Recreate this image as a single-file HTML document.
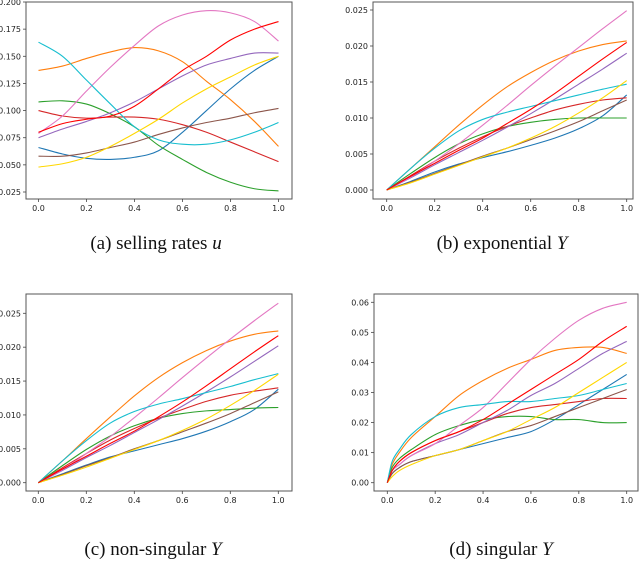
<!DOCTYPE html>
<html><head><meta charset="utf-8">
<style>
html,body{margin:0;padding:0;background:#fff;width:640px;height:577px;overflow:hidden}
svg{display:block}
.tk{font-family:"DejaVu Sans","Liberation Sans",sans-serif;font-size:8px;fill:#222}
.cap{font-family:"Liberation Serif",serif;font-size:19px;fill:#111}
</style></head>
<body>
<svg id="fig" width="640" height="577" viewBox="0 0 640 577" xmlns="http://www.w3.org/2000/svg">
<text class="cap" x="156" y="249" text-anchor="middle">(a) selling rates <tspan font-style="italic">u</tspan></text>
<text class="cap" x="502" y="249" text-anchor="middle">(b) exponential <tspan font-style="italic">Y</tspan></text>
<text class="cap" x="153" y="555" text-anchor="middle">(c) non-singular <tspan font-style="italic">Y</tspan></text>
<text class="cap" x="501" y="555" text-anchor="middle">(d) singular <tspan font-style="italic">Y</tspan></text>
</svg>
<script>
const colors = ["#1f77b4","#ff7f0e","#2ca02c","#d62728","#9467bd","#8c564b","#e377c2","#17becf","#ffd700","#ff0000"];
const seriesNames = ["blue","orange","green","dark-red","purple","brown","pink","cyan","yellow","bright-red"];
const xTicks = [0,0.2,0.4,0.6,0.8,1.0];
const xTickLabels = ["0.0","0.2","0.4","0.6","0.8","1.0"];
const xsA = [0,0.1,0.2,0.3,0.4,0.5,0.6,0.7,0.8,0.9,1.0];
const yTicksA = [0.025,0.05,0.075,0.1,0.125,0.15,0.175,0.2];
const yLabelsA = ["0.025","0.050","0.075","0.100","0.125","0.150","0.175","0.200"];
const valsA = [
[0.066,0.060,0.056,0.055,0.057,0.063,0.080,0.100,0.120,0.137,0.150],
[0.137,0.141,0.148,0.154,0.158,0.155,0.145,0.127,0.110,0.090,0.067],
[0.108,0.109,0.106,0.097,0.085,0.068,0.055,0.043,0.034,0.028,0.026],
[0.100,0.095,0.093,0.094,0.094,0.092,0.087,0.080,0.071,0.062,0.053],
[0.075,0.083,0.090,0.098,0.108,0.120,0.132,0.142,0.148,0.153,0.153],
[0.058,0.058,0.061,0.066,0.071,0.078,0.084,0.089,0.093,0.098,0.102],
[0.079,0.095,0.118,0.140,0.160,0.178,0.188,0.192,0.190,0.182,0.164],
[0.163,0.150,0.128,0.106,0.085,0.073,0.069,0.069,0.073,0.080,0.089],
[0.048,0.051,0.057,0.067,0.079,0.092,0.107,0.120,0.131,0.142,0.150],
[0.080,0.088,0.092,0.095,0.104,0.120,0.137,0.150,0.165,0.175,0.182]];
const xsB = [0,0.1,0.2,0.3,0.4,0.5,0.6,0.7,0.8,0.9,1.0];
const yTicksB = [0,0.005,0.01,0.015,0.02,0.025];
const yLabelsB = ["0.000","0.005","0.010","0.015","0.020","0.025"];
const valsB = [
[0,0.0012,0.0025,0.0036,0.0045,0.0053,0.0062,0.0072,0.0085,0.0103,0.0132],
[0,0.0030,0.0060,0.0090,0.0118,0.0143,0.0163,0.0180,0.0193,0.0202,0.0207],
[0,0.0023,0.0045,0.0064,0.0078,0.0088,0.0094,0.0098,0.0100,0.0100,0.0100],
[0,0.0020,0.0040,0.0058,0.0074,0.0088,0.0100,0.0111,0.0119,0.0125,0.0128],
[0,0.0017,0.0035,0.0052,0.0069,0.0087,0.0106,0.0126,0.0147,0.0168,0.0190],
[0,0.0011,0.0023,0.0035,0.0047,0.0058,0.0070,0.0082,0.0095,0.0110,0.0125],
[0,0.0018,0.0040,0.0064,0.0090,0.0117,0.0145,0.0172,0.0198,0.0224,0.0249],
[0,0.0030,0.0058,0.0082,0.0098,0.0108,0.0116,0.0124,0.0132,0.0140,0.0147],
[0,0.0010,0.0022,0.0034,0.0046,0.0058,0.0072,0.0088,0.0107,0.0128,0.0152],
[0,0.0019,0.0037,0.0055,0.0072,0.0092,0.0112,0.0134,0.0158,0.0182,0.0205]];
const xsC = [0,0.1,0.2,0.3,0.4,0.5,0.6,0.7,0.8,0.9,1.0];
const yTicksC = [0,0.005,0.01,0.015,0.02,0.025];
const yLabelsC = ["0.000","0.005","0.010","0.015","0.020","0.025"];
const valsC = [
[0,0.0013,0.0026,0.0038,0.0047,0.0056,0.0065,0.0076,0.0090,0.0108,0.0138],
[0,0.0032,0.0065,0.0097,0.0128,0.0155,0.0177,0.0195,0.0209,0.0219,0.0224],
[0,0.0025,0.0049,0.0069,0.0084,0.0095,0.0102,0.0106,0.0108,0.0110,0.0111],
[0,0.0022,0.0043,0.0063,0.0080,0.0095,0.0108,0.0120,0.0129,0.0135,0.0140],
[0,0.0018,0.0037,0.0055,0.0074,0.0093,0.0113,0.0134,0.0156,0.0179,0.0202],
[0,0.0012,0.0025,0.0037,0.0050,0.0062,0.0075,0.0088,0.0102,0.0118,0.0134],
[0,0.0019,0.0043,0.0068,0.0096,0.0125,0.0155,0.0184,0.0212,0.0239,0.0265],
[0,0.0032,0.0062,0.0088,0.0105,0.0116,0.0124,0.0133,0.0142,0.0152,0.0161],
[0,0.0011,0.0023,0.0036,0.0049,0.0062,0.0077,0.0094,0.0114,0.0136,0.0160],
[0,0.0020,0.0039,0.0058,0.0076,0.0097,0.0119,0.0143,0.0168,0.0193,0.0217]];
const xsD = [0,0.02,0.05,0.1,0.2,0.3,0.4,0.5,0.6,0.7,0.8,0.9,1.0];
const yTicksD = [0,0.01,0.02,0.03,0.04,0.05,0.06];
const yLabelsD = ["0.00","0.01","0.02","0.03","0.04","0.05","0.06"];
const valsD = [
[0,0.003,0.005,0.007,0.009,0.011,0.013,0.015,0.017,0.021,0.026,0.031,0.036],
[0,0.006,0.010,0.015,0.022,0.029,0.034,0.038,0.041,0.044,0.045,0.045,0.043],
[0,0.005,0.008,0.011,0.016,0.019,0.021,0.022,0.022,0.021,0.021,0.020,0.020],
[0,0.004,0.007,0.010,0.014,0.017,0.020,0.023,0.025,0.026,0.027,0.028,0.028],
[0,0.004,0.006,0.009,0.013,0.016,0.020,0.024,0.029,0.033,0.038,0.043,0.047],
[0,0.003,0.005,0.007,0.009,0.011,0.014,0.017,0.019,0.022,0.025,0.028,0.031],
[0,0.004,0.006,0.009,0.013,0.019,0.025,0.033,0.041,0.048,0.054,0.058,0.060],
[0,0.007,0.011,0.016,0.022,0.025,0.026,0.027,0.027,0.028,0.029,0.031,0.033],
[0,0.002,0.004,0.006,0.009,0.011,0.014,0.017,0.021,0.025,0.030,0.035,0.040],
[0,0.004,0.007,0.010,0.014,0.017,0.021,0.026,0.031,0.036,0.041,0.047,0.052]];

const NS = "http://www.w3.org/2000/svg";
const fig = document.getElementById("fig");
function mk(tag, attrs, parent){
  const e = document.createElementNS(NS, tag);
  for (const k in attrs) e.setAttribute(k, attrs[k]);
  (parent||fig).appendChild(e);
  return e;
}
function smooth(pts){
  let d = "M" + pts[0][0].toFixed(2) + "," + pts[0][1].toFixed(2);
  for (let i=0;i<pts.length-1;i++){
    const p0 = pts[Math.max(0,i-1)], p1 = pts[i], p2 = pts[i+1], p3 = pts[Math.min(pts.length-1,i+2)];
    const c1x = p1[0]+(p2[0]-p0[0])/6, c1y = p1[1]+(p2[1]-p0[1])/6;
    const c2x = p2[0]-(p3[0]-p1[0])/6, c2y = p2[1]-(p3[1]-p1[1])/6;
    d += " C"+c1x.toFixed(2)+","+c1y.toFixed(2)+" "+c2x.toFixed(2)+","+c2y.toFixed(2)+" "+p2[0].toFixed(2)+","+p2[1].toFixed(2);
  }
  return d;
}
function panel(id, box, xr, yr, xs, vals, yTicks, yLabels){
  const g = mk("g", {});
  
  
  const sx = v => xr[0] + (xr[1]-xr[0]) * v;
  const sy = v => yr[0] + (yr[1]-yr[0]) * (v - yr[2]) / (yr[3]-yr[2]);
  vals.forEach((s, k) => {
    const pts = xs.map((x,i) => [sx(x), sy(s[i])]);
    const p = mk("path", {d: smooth(pts), fill:"none", stroke: colors[k], "stroke-width":"1.1"}, g);
    
    
  });
  const fr = mk("rect", {x:box[0], y:box[1], width:box[2]-box[0], height:box[3]-box[1], fill:"none", stroke:"#555", "stroke-width":"1"}, g);
  
  
  xTicks.forEach((t,i) => {
    const x = sx(t);
    mk("line", {x1:x, x2:x, y1:box[3], y2:box[3]+3, stroke:"#444", "stroke-width":"0.8"}, g);
    const tx = mk("text", {x:x, y:box[3]+12, "text-anchor":"middle", class:"tk"}, g);
    tx.textContent = xTickLabels[i];
    
    
  });
  yTicks.forEach((t,i) => {
    const y = sy(t);
    mk("line", {x1:box[0]-3, x2:box[0], y1:y, y2:y, stroke:"#444", "stroke-width":"0.8"}, g);
    const tx = mk("text", {x:box[0]-5, y:y+3, "text-anchor":"end", class:"tk"}, g);
    tx.textContent = yLabels[i];
    
    
  });
}
panel("a", [26,2,292,199], [38.5,278.5], [192,2,0.025,0.2], xsA, valsA, yTicksA, yLabelsA);
panel("b", [373,2,633,199], [386.7,626.7], [190,10,0,0.025], xsB, valsB, yTicksB, yLabelsB);
panel("c", [26,294,292,491], [38.3,278.3], [482.7,313.3,0,0.025], xsC, valsC, yTicksC, yLabelsC);
panel("d", [374,294,638,491], [387.3,626.7], [482.7,302.3,0,0.06], xsD, valsD, yTicksD, yLabelsD);
</script>
</body></html>
